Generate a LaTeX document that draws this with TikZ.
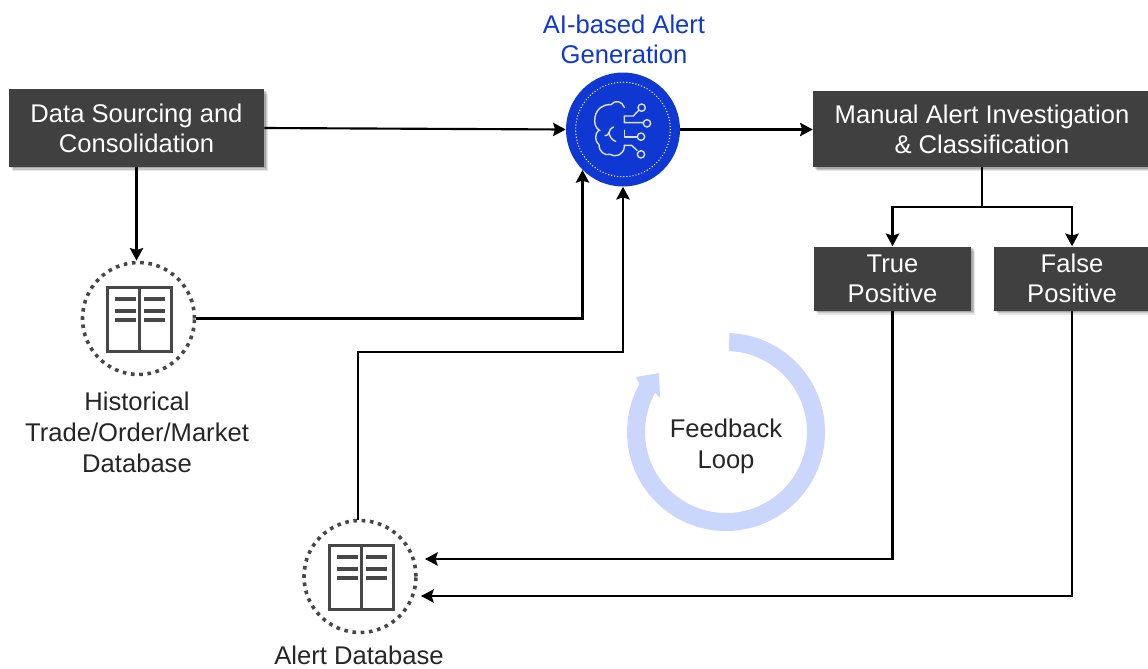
\documentclass[tikz,border=0pt]{standalone}
\usepackage{fontspec}
\setmainfont{Liberation Sans}
\usetikzlibrary{arrows.meta,shadows,calc}
\definecolor{boxgray}{HTML}{404040}
\definecolor{aiblue}{HTML}{0F38D2}
\definecolor{ringblue}{HTML}{CBD6FC}
\definecolor{bookgray}{HTML}{474747}
\tikzset{
  txt/.style={font=\fontsize{19.2}{23.25}\selectfont,align=center,inner sep=0pt,text=black!85},
  softshade/.style={drop shadow={shadow xshift=3.2pt,shadow yshift=-3.2pt,opacity=.1,fill=black},
    drop shadow={shadow xshift=2.2pt,shadow yshift=-2.2pt,opacity=.13,fill=black},
    drop shadow={shadow xshift=1.2pt,shadow yshift=-1.2pt,opacity=.16,fill=black}},
  darkbox/.style={fill=boxgray,text=white,font=\fontsize{19.2}{22.5}\selectfont,align=center,inner sep=0pt,softshade},
  dotring/.style={circle,minimum size=84pt,inner sep=0pt,draw=bookgray,line width=2.7pt,dash pattern=on 2.7pt off 3.5pt},
  conn/.style={draw=black,line width=1.6pt,-{Stealth[length=9.5pt,width=10pt,inset=1.5pt]}},
  plainconn/.style={draw=black,line width=1.6pt},
  bookline/.style={draw=bookgray,line width=2.6pt},
  iconline/.style={draw=white!85!aiblue,line width=1.05pt,line cap=round,line join=round},
}
\newcommand{\bookicon}[2]{%
  \begin{scope}[shift={(#1,#2)}]
    \draw[bookline] (-31.5,-31.5) rectangle (32.5,32.5);
    \draw[bookline] (.5,-31.5) -- (.5,32.5);
    \foreach \yy in {-20,-8.5,1}{
      \draw[bookline,line width=3pt] (-24,\yy) -- (-3,\yy);
      \draw[bookline,line width=3pt] (5,\yy) -- (26,\yy);
    }
  \end{scope}}
\begin{document}
\begin{tikzpicture}[x=.75pt,y=-.75pt]
\useasboundingbox (0,0) rectangle (1148,668);
\clip (0,0) rectangle (1148,668);
% boxes
\node[darkbox,minimum width=191.25pt,minimum height=58pt] (data) at (136.5,128) {Data Sourcing and\\Consolidation};
\node[darkbox,minimum width=253.5pt,minimum height=57pt] (manual) at (982,129) {Manual Alert Investigation\\\& Classification};
\node[darkbox,minimum width=117.75pt,minimum height=48pt] (tp) at (892.5,278.5) {True\\Positive};
\node[darkbox,minimum width=117pt,minimum height=48pt] (fp) at (1072,278.5) {False\\Positive};
% circles
\node[circle,fill=aiblue,minimum size=85.5pt,inner sep=0pt] (ai) at (623,129.5) {};
\node[dotring] (hist) at (138.5,318.5) {};
\node[dotring] (adb) at (360,576.5) {};
\bookicon{139}{319}
\bookicon{361}{577}
% AI icon
\draw[white,line width=1.05pt,line cap=round,dash pattern=on 0pt off 2.3pt] (ai.center) circle (35.5pt);
\begin{scope}[shift={(585,92)},x=.25pt,y=-.25pt]
  \draw[iconline] (118,46) .. controls (112,28) and (90,22) .. (78,38)
     .. controls (55,36) and (35,50) .. (30,75)
     .. controls (27,92) and (30,108) .. (45,116);
  \draw[iconline] (40,116) .. controls (30,125) and (28,148) .. (42,158)
     .. controls (42,180) and (60,192) .. (75,187)
     .. controls (90,197) and (115,190) .. (118,165) -- (118,160) -- (140,160) -- (156,175);
  \draw[iconline] (92,148) .. controls (80,145) and (72,130) .. (72,122) .. controls (72,115) and (78,108) .. (85,105);
  \draw[iconline] (60,131) .. controls (66,131) and (70,128) .. (72,122);
  \draw[iconline] (160,56) -- (145,72) -- (118,72) -- (118,92) -- (175,92);
  \draw[iconline] (118,115) -- (118,135) -- (157,135);
  \draw[iconline] (170,47) circle (11);
  \draw[iconline] (186,94) circle (11);
  \draw[iconline] (168,134) circle (11);
  \draw[iconline] (168,187) circle (11);
\end{scope}
% ring
\begin{scope}[shift={(726,432)},y=.75pt]
  \fill[ringblue] (88:74.25pt) arc[start angle=88,end angle=-209,radius=74.25pt]
     -- (-90*.75pt,55*.75pt) -- (-67*.75pt,59*.75pt) -- (-66*.75pt,34*.75pt)
     -- (151:60.75pt) arc[start angle=-209,end angle=88,radius=60.75pt] -- cycle;
\end{scope}
% labels
\node[txt,text=aiblue,font=\fontsize{19.2}{22.5}\selectfont] (ailabel) at (624,39) {AI-based Alert\\Generation};
\node[txt] (histlabel) at (137,432) {Historical\\Trade/Order/Market\\Database};
\node[txt] (fblabel) at (726,446) {Feedback\\Loop};
\node[txt] (adblabel) at (359,655.5) {Alert Database};
% connectors
\coordinate (aib) at (623,352);
\coordinate (adbtop) at (358,520);
\coordinate (tipa) at (425,559);
\coordinate (tipb) at (421,596);
\coordinate (split) at (982,207);
\draw[conn] (data.east) -- (ai.west);
\draw[conn] (data.south) -- (data.south |- hist.north);
\draw[conn] (hist.east) -| (ai.-135);
\draw[conn] (adbtop) |- (aib) -- (ai.south);
\draw[conn] (ai.east) -- (manual.west |- ai.east);
\draw[plainconn] (manual.south) -- (split);
\draw[conn] (split) -| (tp.north);
\draw[conn] (split) -| (fp.north);
\draw[conn] (tp.south) |- (tipa);
\draw[conn] (fp.south) |- (tipb);
\end{tikzpicture}
\end{document}
